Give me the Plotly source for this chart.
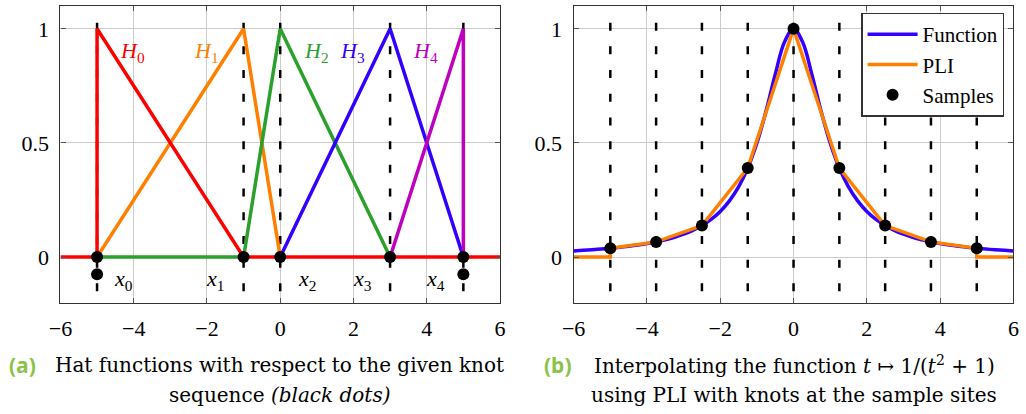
import plotly.graph_objects as go

# ---------------- data ----------------
# knot sequence for the hat functions (left panel)
knots = [-5, -1, 0, 3, 5]
knot_zero = [0, 0, 0, 0, 0]
end_marks_x = [-5, 5]
end_marks_y = [-0.075, -0.075]

# piecewise-linear hat functions H0..H4 (vertices)
h0_x = [-6, -5, -5, -1, 6]
h0_y = [0, 0, 1, 0, 0]
h1_x = [-5, -1, 0]
h1_y = [0, 1, 0]
h2_x = [-5, -1, 0, 3]
h2_y = [0, 0, 1, 0]
h3_x = [0, 3, 5]
h3_y = [0, 1, 0]
h4_x = [3, 5, 5]
h4_y = [0, 1, 0]

# function t -> 1/(t^2+1), tabulated
func_t = [-6, -5.75, -5.5, -5.25, -5, -4.75, -4.5, -4.25, -4, -3.75, -3.5, -3.25,
          -3, -2.75, -2.5, -2.25, -2, -1.75, -1.5, -1.25, -1, -0.75, -0.5, -0.25,
          0, 0.25, 0.5, 0.75, 1, 1.25, 1.5, 1.75, 2, 2.25, 2.5, 2.75, 3, 3.25,
          3.5, 3.75, 4, 4.25, 4.5, 4.75, 5, 5.25, 5.5, 5.75, 6]
func_y = [0.0270, 0.0294, 0.0320, 0.0350, 0.0385, 0.0424, 0.0471, 0.0525, 0.0588,
          0.0664, 0.0755, 0.0865, 0.1000, 0.1168, 0.1379, 0.1649, 0.2000, 0.2462,
          0.3077, 0.3902, 0.5000, 0.6400, 0.8000, 0.9412, 1.0000, 0.9412, 0.8000,
          0.6400, 0.5000, 0.3902, 0.3077, 0.2462, 0.2000, 0.1649, 0.1379, 0.1168,
          0.1000, 0.0865, 0.0755, 0.0664, 0.0588, 0.0525, 0.0471, 0.0424, 0.0385,
          0.0350, 0.0320, 0.0294, 0.0270]

# sample sites and sampled values (right panel)
sample_t = [-5, -3.75, -2.5, -1.25, 0, 1.25, 2.5, 3.75, 5]
sample_y = [0.0385, 0.0664, 0.1379, 0.3902, 1.0, 0.3902, 0.1379, 0.0664, 0.0385]

# piecewise-linear interpolant, zero outside the sample range
pli_t = [-6, -5] + sample_t + [5, 6]
pli_y = [0, 0] + sample_y + [0, 0]

x_ticks = [-6, -4, -2, 0, 2, 4, 6]
y_ticks = [0, 0.5, 1]
dash_y = [-0.158, 1.027]

# ---------------- styling ----------------
W, H = 1026, 414
RED, ORANGE, GREEN, BLUE, MAGENTA = "#ff0000", "#ff7f00", "#2ca02c", "#3300ff", "#bf00bf"
SERIF = "'Liberation Serif', 'Times New Roman', Times, serif"
TICK_FONT = dict(family=SERIF, size=22, color="black")
LW = 3.5


def vlines(xs):
    xx, yy = [], []
    for v in xs:
        xx += [v, v, None]
        yy += [dash_y[1], dash_y[0], None]
    return xx, yy


fig = go.Figure()

# ---- left panel ----
dx, dy = vlines(knots)
fig.add_trace(go.Scatter(x=dx, y=dy, mode="lines", xaxis="x", yaxis="y",
                         line=dict(color="black", width=2.5, dash="8px,15.7px"),
                         showlegend=False, hoverinfo="skip"))
for xs, ys, col in [(h1_x, h1_y, ORANGE), (h2_x, h2_y, GREEN), (h3_x, h3_y, BLUE),
                    (h4_x, h4_y, MAGENTA), (h0_x, h0_y, RED)]:
    fig.add_trace(go.Scatter(x=xs, y=ys, mode="lines", xaxis="x", yaxis="y",
                             line=dict(color=col, width=LW), showlegend=False))
fig.add_trace(go.Scatter(x=knots, y=knot_zero, mode="markers", xaxis="x", yaxis="y",
                         marker=dict(color="black", size=12), showlegend=False))
fig.add_trace(go.Scatter(x=end_marks_x, y=end_marks_y, mode="markers", xaxis="x", yaxis="y",
                         marker=dict(color="black", size=12), showlegend=False))

# ---- right panel ----
dx, dy = vlines(sample_t)
fig.add_trace(go.Scatter(x=dx, y=dy, mode="lines", xaxis="x2", yaxis="y2",
                         line=dict(color="black", width=2.5, dash="8px,15.7px"),
                         showlegend=False, hoverinfo="skip"))
fig.add_trace(go.Scatter(x=func_t, y=func_y, mode="lines", xaxis="x2", yaxis="y2",
                         line=dict(color=BLUE, width=LW, shape="spline", smoothing=1),
                         name="Function"))
fig.add_trace(go.Scatter(x=pli_t, y=pli_y, mode="lines", xaxis="x2", yaxis="y2",
                         line=dict(color=ORANGE, width=LW), name="PLI"))
fig.add_trace(go.Scatter(x=sample_t, y=sample_y, mode="markers", xaxis="x2", yaxis="y2",
                         marker=dict(color="black", size=12), name="Samples"))

axis_common = dict(
    range=[-6, 6], showgrid=True, gridcolor="#cccccc", gridwidth=1, zeroline=False,
    showline=True, linecolor="#333333", linewidth=1.3, mirror="ticks",
    ticks="inside", ticklen=5, tickcolor="#555555", tickfont=TICK_FONT,
    ticklabelstandoff=6,
)
yaxis_common = dict(axis_common, range=[-0.2, 1.1], tickvals=y_ticks,
                    ticktext=["0", "0.5", "1"])
xaxis_common = dict(axis_common, tickvals=x_ticks)

y_dom = [1 - 302.7 / H, 1 - 6 / H]
fig.update_layout(
    width=W, height=H, margin=dict(l=0, r=0, t=0, b=0),
    paper_bgcolor="white", plot_bgcolor="white",
    font=dict(family=SERIF),
    xaxis=dict(xaxis_common, domain=[49.3 / W, 496.7 / W], anchor="y"),
    yaxis=dict(yaxis_common, domain=y_dom, anchor="x"),
    xaxis2=dict(xaxis_common, domain=[571.7 / W, 1019.3 / W], anchor="y2"),
    yaxis2=dict(yaxis_common, domain=y_dom, anchor="x2"),
    showlegend=True,
    legend=dict(x=1010 / W, xanchor="right", y=1 - 12.7 / H, yanchor="top",
                bgcolor="white", bordercolor="#333333", borderwidth=1.3,
                font=dict(family=SERIF, size=21, color="black"),
                itemwidth=50, tracegroupgap=0),
)

ann = []
# hat-function labels
for txt, xv, col in [("<i>H</i><sub>0</sub>", -4.02, RED), ("<i>H</i><sub>1</sub>", -2.01, ORANGE),
                     ("<i>H</i><sub>2</sub>", 0.99, GREEN), ("<i>H</i><sub>3</sub>", 1.98, BLUE),
                     ("<i>H</i><sub>4</sub>", 3.98, MAGENTA)]:
    ann.append(dict(x=xv, y=0.9, xref="x", yref="y", text=txt, showarrow=False,
                    font=dict(family=SERIF, size=22, color=col)))
# knot labels
for i, xv in enumerate([-4.29, -1.78, 0.72, 2.24, 4.25]):
    ann.append(dict(x=xv, y=-0.1, xref="x", yref="y", text=f"<i>x</i><sub>{i}</sub>",
                    showarrow=False, font=dict(family=SERIF, size=22, color="black")))

CAP_FONT = dict(family="'DejaVu Serif', serif", size=20, color="black")
LAB_FONT = dict(family="'Noto Sans', 'Open Sans', sans-serif", size=21, color="#8bc34a")


def cap(xc, yc, text, font, xanchor="center"):
    return dict(x=xc / W, y=1 - yc / H, xref="paper", yref="paper", text=text,
                showarrow=False, xanchor=xanchor, yanchor="middle", font=font)


ann += [
    cap(26, 365, "<b>(a)</b>", LAB_FONT, "right"),
    cap(272, 365, "Hat functions with respect to the given knot", CAP_FONT),
    cap(272, 395, "sequence <i>(black dots)</i>", CAP_FONT),
    cap(572, 365, "<b>(b)</b>", LAB_FONT, "right"),
    cap(796, 365, "Interpolating the function <i>t</i> ↦ 1/(<i>t</i><sup>2</sup> + 1)", CAP_FONT),
    cap(796, 395, "using PLI with knots at the sample sites", CAP_FONT),
]
fig.update_layout(annotations=ann)

fig.write_html("out.html")
